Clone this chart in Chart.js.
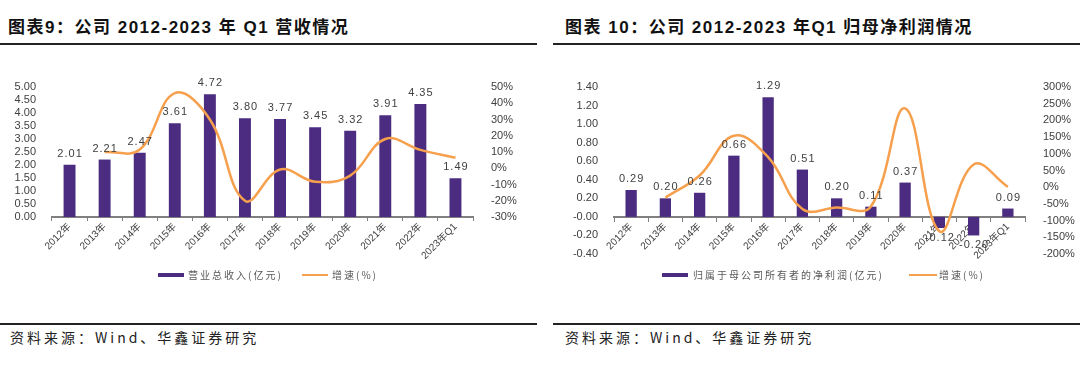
<!DOCTYPE html>
<html><head><meta charset="utf-8">
<script src="https://cdn.jsdelivr.net/npm/chart.js@4.4.0/dist/chart.umd.min.js"></script>
<style>
html,body{margin:0;padding:0;background:#fff;width:1080px;height:365px;overflow:hidden;position:relative;font-family:"Noto Sans CJK SC",sans-serif;}
.title{position:absolute;top:17px;font-family:"Liberation Sans","Noto Sans CJK SC",sans-serif;font-weight:bold;font-size:17px;letter-spacing:1.5px;color:#111;white-space:nowrap;line-height:22px;}
.rule{position:absolute;height:2px;background:#222;}
.src{position:absolute;top:327px;font-size:14px;letter-spacing:3px;color:#222;line-height:20px;white-space:nowrap;}
.cw{position:absolute;top:60px;width:540px;height:230px;}
.leg{position:absolute;top:268px;font-size:10px;letter-spacing:2px;color:#595959;line-height:14px;white-space:nowrap;}
.sw{position:absolute;}
</style></head>
<body>
<div class="title" style="left:8px">图表9：公司 2012-2023 年 Q1 营收情况</div>
<div class="title" style="left:565px">图表 10：公司 2012-2023 年Q1 归母净利润情况</div>
<div class="rule" style="left:0;width:537px;top:43px"></div>
<div class="rule" style="left:553px;width:527px;top:43px"></div>

<canvas id="c1" class="cw" width="540" height="230" style="left:0"></canvas>
<canvas id="c2" class="cw" width="540" height="230" style="left:540px"></canvas>

<div class="sw" style="left:158px;top:273px;width:26px;height:4px;background:#4B2C80"></div>
<div class="leg" style="left:188px">营业总收入(亿元)</div>
<div class="sw" style="left:302px;top:274px;width:26px;height:2px;background:#F6A04D"></div>
<div class="leg" style="left:332px">增速(%)</div>

<div class="sw" style="left:662px;top:273px;width:26px;height:4px;background:#4B2C80"></div>
<div class="leg" style="left:693px">归属于母公司所有者的净利润(亿元)</div>
<div class="sw" style="left:909px;top:274px;width:28px;height:2px;background:#F6A04D"></div>
<div class="leg" style="left:939px">增速(%)</div>

<div class="rule" style="left:0;width:537px;top:323px"></div>
<div class="rule" style="left:553px;width:527px;top:323px"></div>
<div class="src" style="left:10px">资料来源：Wind、华鑫证券研究</div>
<div class="src" style="left:565px">资料来源：Wind、华鑫证券研究</div>

<script>
const categories = ['2012年','2013年','2014年','2015年','2016年','2017年','2018年','2019年','2020年','2021年','2022年','2023年Q1'];
const revenue = [2.01,2.21,2.47,3.61,4.72,3.80,3.77,3.45,3.32,3.91,4.35,1.49];
const revenueGrowth = [null,10.0,11.5,46.2,30.0,-20.0,-0.8,-8.3,-4.5,18.0,11.3,6.5];
const netProfit = [0.29,0.20,0.26,0.66,1.29,0.51,0.20,0.11,0.37,-0.12,-0.20,0.09];
const profitGrowth = [null,-31,35,154,90,-65,-61,-58,236,-132,68,1];

const BAR = '#4B2C80';
const LINE = '#F6A04D';
const TXT = '#404040';
const tickFont = {family:'"Liberation Sans", Arial, sans-serif', size:11};

const labelPlugin = {
  id:'barLabels',
  afterDatasetsDraw(chart){
    const ctx = chart.ctx;
    const meta = chart.getDatasetMeta(0);
    const data = chart.data.datasets[0].data;
    ctx.save();
    ctx.font = '11px "Liberation Sans", Arial, sans-serif';
    ctx.fillStyle = TXT;
    ctx.textAlign = 'center';
    ctx.textBaseline = 'middle';
    if ('letterSpacing' in ctx) ctx.letterSpacing = '1px';
    meta.data.forEach((bar,i)=>{
      const v = data[i];
      const y = v >= 0 ? bar.y - 11 : bar.y + 10;
      ctx.fillText(v.toFixed(2), bar.x + 0.5, y);
    });
    ctx.restore();
  }
};

function makeChart(id, bars, barLabel, growth, cfg){
  return new Chart(document.getElementById(id), {
    data:{
      labels: categories,
      datasets:[
        {type:'bar', label:barLabel, data:bars, backgroundColor:BAR, yAxisID:'y',
         categoryPercentage:1, barPercentage:cfg.barPct, order:1},
        {type:'line', label:'增速(%)', data:growth, borderColor:LINE, borderWidth:2.5,
         pointRadius:0, tension:0.4, yAxisID:'y1', order:0, fill:false}
      ]
    },
    options:{
      responsive:false, animation:false, devicePixelRatio:1,
      layout:{padding:{top:cfg.padTop, bottom:cfg.padBottom, left:0, right:0}},
      plugins:{legend:{display:false}, tooltip:{enabled:false}},
      scales:{
        x:{
          position: cfg.xPos,
          offset:true,
          grid:{offset:true, drawOnChartArea:false, drawTicks:true, tickLength:4, color:'#808080', lineWidth:1},
          border:{display:true, color:'#808080', width:2},
          ticks:{color:TXT, font:{family:'"Liberation Sans","Noto Sans CJK SC",sans-serif', size:10}, minRotation:45, maxRotation:45, autoSkip:false, padding:0},
          afterFit(s){ if (cfg.xHeight) s.height = cfg.xHeight; }
        },
        y:{
          position:'left', min:cfg.yMin, max:cfg.yMax,
          grid:{display:false}, border:{display:false},
          ticks:{stepSize:cfg.yStep, autoSkip:false, color:TXT, font:tickFont, padding:8,
                 callback:v=>Number(v).toFixed(2)},
          afterFit(s){ s.width = cfg.yWidth; }
        },
        y1:{
          position:'right', min:cfg.y1Min, max:cfg.y1Max,
          grid:{display:false}, border:{display:false},
          ticks:{stepSize:cfg.y1Step, autoSkip:false, color:TXT, font:tickFont, padding:10,
                 callback:v=>Math.round(v)+'%'},
          afterFit(s){ s.width = cfg.y1Width; }
        }
      }
    },
    plugins:[labelPlugin]
  });
}

makeChart('c1', revenue, '营业总收入(亿元)', revenueGrowth, {
  barPct:0.34, padTop:27, padBottom:0, xPos:'bottom', xHeight:73,
  yMin:0, yMax:5, yStep:0.5, yWidth:52,
  y1Min:-30, y1Max:50, y1Step:10, y1Width:67
});
makeChart('c2', netProfit, '归属于母公司所有者的净利润(亿元)', profitGrowth, {
  barPct:0.33, padTop:27, padBottom:36, xPos:{y:0}, xHeight:0,
  yMin:-0.4, yMax:1.4, yStep:0.2, yWidth:74,
  y1Min:-200, y1Max:300, y1Step:50, y1Width:55
});
</script>
</body></html>
